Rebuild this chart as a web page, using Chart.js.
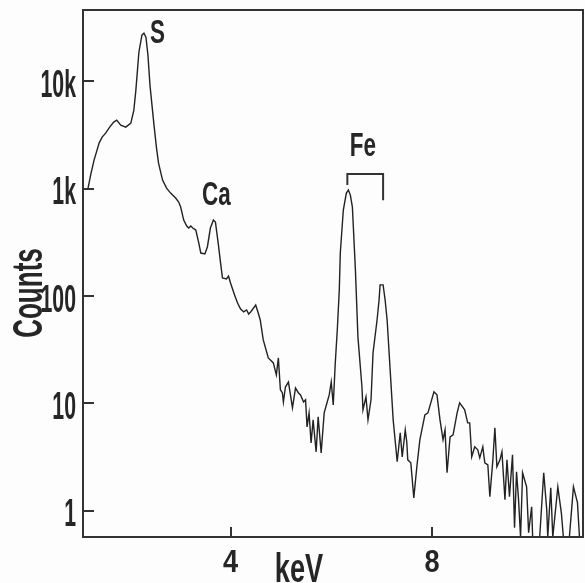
<!DOCTYPE html>
<html lang="en">
<head>
    <meta charset="UTF-8">
    <title>X-ray spectrum</title>
    <script src="https://cdn.jsdelivr.net/npm/chart.js"></script>
    <style>
        body {
            margin: 0;
            background: #fdfdfd;
        }
        .chart-container {
            position: relative;
            width: 585px;
            height: 583px;
        }
    </style>
</head>
<body>
    <div class="chart-container">
        <canvas id="spectrumChart"></canvas>
    </div>

    <script>
        // energy (keV) and counts
        const energy = [1.17,1.23,1.29,1.39,1.45,1.52,1.60,1.68,1.74,1.82,
            1.92,2.02,2.08,2.12,2.18,2.24,2.28,2.32,2.36,2.40,
            2.44,2.48,2.53,2.57,2.65,2.73,2.81,2.91,2.97,3.01,3.07,
            3.13,3.17,3.21,3.25,3.31,3.37,3.41,3.49,3.54,3.60,
            3.66,3.70,3.76,3.80,3.84,3.92,3.96,4.00,4.08,4.14,
            4.20,4.26,4.32,4.36,4.40,4.50,4.55,4.59,4.65,4.75,
            4.85,4.91,4.95,4.99,5.03,5.05,5.09,5.15,5.19,5.23,
            5.29,5.35,5.39,5.45,5.49,5.52,5.56,5.60,5.64,5.70,
            5.74,5.80,5.86,5.92,5.96,6.00,6.04,6.08,6.12,6.16,
            6.18,6.24,6.30,6.34,6.38,6.42,6.48,6.53,6.61,6.63,
            6.69,6.73,6.79,6.83,6.91,6.95,6.97,7.03,7.07,7.11,
            7.17,7.23,7.31,7.37,7.41,7.47,7.50,7.52,7.58,7.64,
            7.70,7.76,7.86,7.92,8.04,8.10,8.16,8.22,8.26,8.30,
            8.36,8.42,8.50,8.55,8.65,8.71,8.75,8.79,8.85,8.91,
            8.95,9.01,9.05,9.11,9.15,9.21,9.25,9.29,9.35,9.39,
            9.45,9.49,9.54,9.60,9.64,9.68,9.72,9.76,9.80,9.88,
            9.92,9.98,10.00,10.14,10.22,10.28,10.30,10.36,10.40,10.50,
            10.57,10.61,10.73,10.81,10.89,10.93,11.03];

        const counts = [1010,1393,1842,2650,3015,3283,3735,4155,4337,3896,
            3735,4065,5370,8245,18600,26800,27980,25650,17460,9180,
            5980,3896,2380,1727,1200,1010,908,816,749,673,509,
            448,429,448,429,411,311,251,246,286,429,
            509,488,298,207,147,144,153,132,102,86,
            75.7,71,74.1,68,71,82.4,69.5,59.8,39,26.5,
            23.8,18.4,26.5,13.4,12.5,10.3,14.2,15.8,12.0,9.08,
            13.9,12.5,12.0,10.3,10.8,6.04,8.16,4.29,7.02,3.54,
            7.49,3.46,8.16,10.3,12.0,15.8,9.68,23.8,48.3,114,
            251,631,908,968,870,673,175,41.6,14.2,8.70,
            11.5,7.02,10.8,29.5,59.8,91.8,127,127,91.8,59.8,
            20.5,7.02,2.86,5.32,3.18,5.67,4.38,2.98,2.80,1.32,
            2.57,4.58,7.82,8.16,12.8,12.0,7.02,4.58,5.67,2.26,
            4.88,5.09,8.16,10.1,8.70,6.59,6.59,3.18,3.94,3.69,
            3.11,3.94,2.80,2.68,1.35,2.98,5.92,2.57,2.98,3.54,
            1.27,2.98,1.35,3.32,0.695,2.31,1.27,0.57,2.26,1.67,
            0.624,1.09,0.57,0.57,2.26,1.02,0.57,1.64,0.57,1.67,
            0.958,0.57,0.57,1.67,1.19,0.57,0.57];

        const yTickValues = [1, 10, 100, 1000, 10000];
        const yTickLabels = ['1', '10', '100', '1k', '10k'];
        const xTickValues = [4, 8];
        const xTickLabels = ['4', '8'];

        // peak labels: name, keV, counts at label centre
        const peakNames = ['S', 'Ca', 'Fe'];
        const peakEnergy = [2.55, 3.72, 6.63];
        const peakCounts = [29200, 908, 2600];

        // Fe bracket: K-alpha and K-beta energies
        const feLines = [6.32, 7.03];

        const FONT = '"Liberation Sans", Arial, sans-serif';
        const INK = '#262626';

        // draws condensed bold text, y is the cap centre
        function label(ctx, text, x, y, size, sx, align, rot) {
            ctx.save();
            ctx.translate(x, y);
            if (rot) ctx.rotate(rot);
            ctx.scale(sx, 1);
            ctx.font = 'bold ' + size + 'px ' + FONT;
            ctx.textAlign = align;
            ctx.textBaseline = 'alphabetic';
            ctx.fillStyle = INK;
            ctx.fillText(text, 0, 0.358 * size);
            ctx.restore();
        }

        const framePlugin = {
            id: 'frame',
            beforeDraw(chart) {
                const ctx = chart.ctx;
                ctx.save();
                ctx.fillStyle = '#fdfdfd';
                ctx.fillRect(0, 0, chart.width, chart.height);
                ctx.restore();
            },
            afterDraw(chart) {
                const ctx = chart.ctx;
                const a = chart.chartArea;
                const xs = chart.scales.x;
                const ys = chart.scales.y;

                ctx.save();
                ctx.strokeStyle = '#333';
                ctx.lineWidth = 2;
                ctx.strokeRect(a.left, a.top, a.right - a.left, a.bottom - a.top);

                // tick marks point into the plot
                ctx.beginPath();
                yTickValues.forEach(v => {
                    const py = Math.round(ys.getPixelForValue(v));
                    ctx.moveTo(a.left, py);
                    ctx.lineTo(a.left + 11, py);
                });
                xTickValues.forEach(v => {
                    const px = Math.round(xs.getPixelForValue(v));
                    ctx.moveTo(px, a.bottom);
                    ctx.lineTo(px, a.bottom - 10);
                });
                ctx.stroke();

                // Fe bracket
                const bx1 = xs.getPixelForValue(feLines[0]);
                const bx2 = xs.getPixelForValue(feLines[1]);
                const bTop = ys.getPixelForValue(1365);
                ctx.beginPath();
                ctx.moveTo(bx1, ys.getPixelForValue(1080));
                ctx.lineTo(bx1, bTop);
                ctx.lineTo(bx2, bTop);
                ctx.lineTo(bx2, ys.getPixelForValue(780));
                ctx.stroke();
                ctx.restore();

                yTickValues.forEach((v, i) => {
                    label(ctx, yTickLabels[i], 76, ys.getPixelForValue(v) + 2, 38, 0.56, 'right');
                });
                xTickValues.forEach((v, i) => {
                    label(ctx, xTickLabels[i], xs.getPixelForValue(v), 561, 32, 0.85, 'center');
                });
                label(ctx, 'keV', 299, 568, 40, 0.68, 'center');
                label(ctx, 'Counts', 27, 293, 42, 0.62, 'center', -Math.PI / 2);

                peakNames.forEach((n, i) => {
                    label(ctx, n, xs.getPixelForValue(peakEnergy[i]),
                        ys.getPixelForValue(peakCounts[i]), 34, 0.66, 'center');
                });
            }
        };

        const ctx = document.getElementById('spectrumChart').getContext('2d');
        const chart = new Chart(ctx, {
            type: 'line',
            data: {
                datasets: [{
                    label: 'Counts',
                    data: energy.map((e, i) => ({ x: e, y: counts[i] })),
                    borderColor: '#222',
                    borderWidth: 1.4,
                    pointRadius: 0,
                    tension: 0,
                    fill: false
                }]
            },
            options: {
                responsive: true,
                maintainAspectRatio: false,
                animation: false,
                layout: {
                    padding: { left: 83, right: 2, top: 10, bottom: 46 }
                },
                plugins: {
                    legend: { display: false },
                    tooltip: { enabled: false }
                },
                scales: {
                    x: {
                        type: 'linear',
                        display: false,
                        min: 1.07,
                        max: 11.0
                    },
                    y: {
                        type: 'logarithmic',
                        display: false,
                        min: 0.57,
                        max: 46000
                    }
                }
            },
            plugins: [framePlugin]
        });
    </script>
</body>
</html>
